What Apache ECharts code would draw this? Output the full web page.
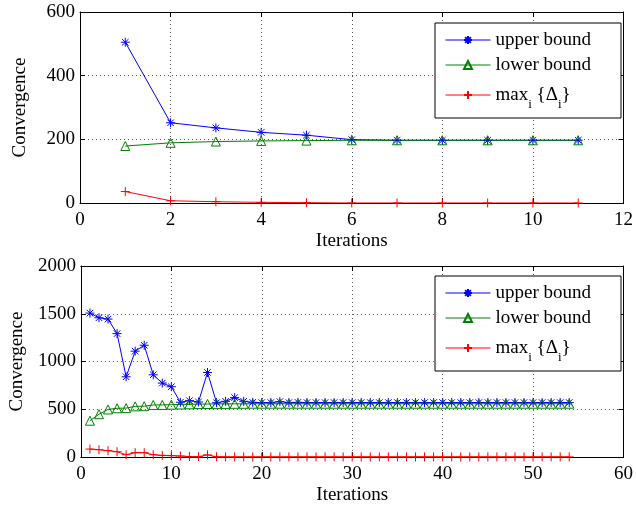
<!DOCTYPE html>
<html>
<head>
<meta charset="utf-8">
<script src="https://cdn.jsdelivr.net/npm/echarts@6/dist/echarts.min.js"></script>
<style>html,body{margin:0;padding:0;background:#fff;}#c{width:636px;height:506px;}</style>
</head>
<body>
<div id="c"></div>
<script>
// ---- data ----
var iterTop = [1,2,3,4,5,6,7,8,9,10,11];
var upperTop = [505,252,236,222,213,199,197,197,197,197,197];
var lowerTop = [179,189,193,195,196,197,197,197,197,197,197];
var maxTop = [36,7,4,2,1,0,0,0,0,0,0];

var iterBot = [1,2,3,4,5,6,7,8,9,10,11,12,13,14,15,16,17,18,19,20,21,22,23,24,25,26,27,28,29,30,31,32,33,34,35,36,37,38,39,40,41,42,43,44,45,46,47,48,49,50,51,52,53,54];
var upperBot = [1507,1458,1444,1292,840,1108,1170,861,774,736,573,590,576,885,569,583,622,583,572,570,570,580,570,572,570,570,570,570,570,570,570,570,570,570,570,570,570,570,570,570,570,570,570,570,570,570,570,570,570,570,570,570,570,570];
var lowerBot = [380,448,498,510,512,530,532,545,545,548,550,552,554,555,556,556,557,557,558,558,558,558,558,558,558,558,558,558,558,558,558,558,558,558,558,558,558,558,558,558,558,558,558,558,558,558,558,558,558,558,558,558,558,558];
var maxBot = [83,76,66,55,24,45,45,24,17,14,10,5,4,22,3,1,1,1,1,1,1,1,1,1,1,1,1,1,1,1,1,1,1,1,1,1,1,1,1,1,1,1,1,1,1,1,1,1,1,1,1,1,1,1];

var namesList = ['upper bound','lower bound','max_i {Δ_i}'];
var topXTicks = {min:0,max:12,interval:2};
var topYTicks = {min:0,max:600,interval:200};
var botXTicks = {min:0,max:60,interval:10};
var botYTicks = {min:0,max:2000,interval:500};

function pairs(xs, ys){ return xs.map(function(x,i){return [x, ys[i]];}); }

var FONT = 'Liberation Serif';
var FS = 19;
var STAR = 'path://M0,-5L0,5M-5,0L5,0M-3.6,-3.6L3.6,3.6M-3.6,3.6L3.6,-3.6';
var TRI = 'path://M0,-5L5,4L-5,4Z';
var PLUS = 'path://M0,-5L0,5M-5,0L5,0';

function plain(v){ return String(v); }

function mkX(gi, t, show){
  return {
    type:'value', gridIndex:gi, min:t.min, max:t.max, interval:t.interval,
    position: show ? 'bottom' : 'top',
    name: show ? 'Iterations' : '', nameLocation:'middle', nameGap: 29,
    nameTextStyle:{fontFamily:FONT, fontSize:FS, color:'#000'},
    axisLine:{show:true, onZero:false, lineStyle:{color:'#000', width:1}},
    axisTick:{show:true, inside:true, length:5, lineStyle:{color:'#000'}},
    axisLabel:{show:show, fontFamily:FONT, fontSize:FS, color:'#000', margin:8, formatter:plain},
    splitLine:{show:show, lineStyle:{color:'#555', type:[1,3], width:1}}
  };
}
function mkY(gi, t, show){
  return {
    type:'value', gridIndex:gi, min:t.min, max:t.max, interval:t.interval,
    position: show ? 'left' : 'right',
    name: show ? 'Convergence' : '', nameLocation:'middle', nameGap: 50,
    nameTextStyle:{fontFamily:FONT, fontSize:FS, color:'#000'},
    axisLine:{show:true, onZero:false, lineStyle:{color:'#000', width:1}},
    axisTick:{show:true, inside:true, length:5, lineStyle:{color:'#000'}},
    axisLabel:{show:show, fontFamily:FONT, fontSize:FS, color:'#000', margin:5, formatter:plain},
    splitLine:{show:show, lineStyle:{color:'#555', type:[1,3], width:1}}
  };
}
function mkSeries(gi, xs, ys, name, color, sym, fill){
  return {
    type:'line', name:name, xAxisIndex: gi*2, yAxisIndex: gi*2,
    data: pairs(xs, ys), symbol: sym, symbolSize: 9, showSymbol:true,
    lineStyle:{color:color, width:1}, animation:false,
    itemStyle:{color: fill, borderColor:color, borderWidth:1},
    emphasis:{disabled:true}
  };
}
function mkLegend(top){
  return {
    orient:'vertical', left:435, top:top,
    backgroundColor:'#fff', borderColor:'#000', borderWidth:1,
    padding:[6,30,7,10], itemWidth:45, itemHeight:10, itemGap:3,
    lineStyle:{width:1},
    data:namesList,
    textStyle:{fontFamily:FONT, fontSize:FS, color:'#000', lineHeight:32,
      rich:{
        n:{fontFamily:FONT, fontSize:FS, color:'#000', lineHeight:22},
        m:{fontFamily:FONT, fontSize:FS, color:'#000', lineHeight:32},
        s:{fontFamily:FONT, fontSize:13, color:'#000', lineHeight:14, verticalAlign:'bottom'}
      }
    },
    formatter:function(n){
      if(n===namesList[2]) return '{m|max}{s|i}{m| \u007BΔ}{s|i}\u007D';
      return '{n|'+n+'}';
    },
    selectedMode:false
  };
}

var chart = echarts.init(document.getElementById('c'), null, {renderer:'canvas'});
chart.setOption({
  backgroundColor:'#fff',
  animation:false,
  grid:[
    {left:80, top:12, width:546, height:191},
    {left:80, top:266, width:545, height:192}
  ],
  xAxis:[mkX(0, topXTicks, true), mkX(0, topXTicks, false), mkX(1, botXTicks, true), mkX(1, botXTicks, false)],
  yAxis:[mkY(0, topYTicks, true), mkY(0, topYTicks, false), mkY(1, botYTicks, true), mkY(1, botYTicks, false)],
  legend:[mkLegend(23), mkLegend(276)],
  series:[
    mkSeries(0, iterTop, upperTop, namesList[0], '#0000ff', STAR, 'rgba(0,0,0,0)'),
    mkSeries(0, iterTop, lowerTop, namesList[1], '#008000', TRI, 'rgba(0,0,0,0)'),
    mkSeries(0, iterTop, maxTop, namesList[2], '#ff0000', PLUS, 'rgba(0,0,0,0)'),
    mkSeries(1, iterBot, upperBot, namesList[0], '#0000ff', STAR, 'rgba(0,0,0,0)'),
    mkSeries(1, iterBot, lowerBot, namesList[1], '#008000', TRI, 'rgba(0,0,0,0)'),
    mkSeries(1, iterBot, maxBot, namesList[2], '#ff0000', PLUS, 'rgba(0,0,0,0)')
  ]
});
</script>
</body>
</html>
